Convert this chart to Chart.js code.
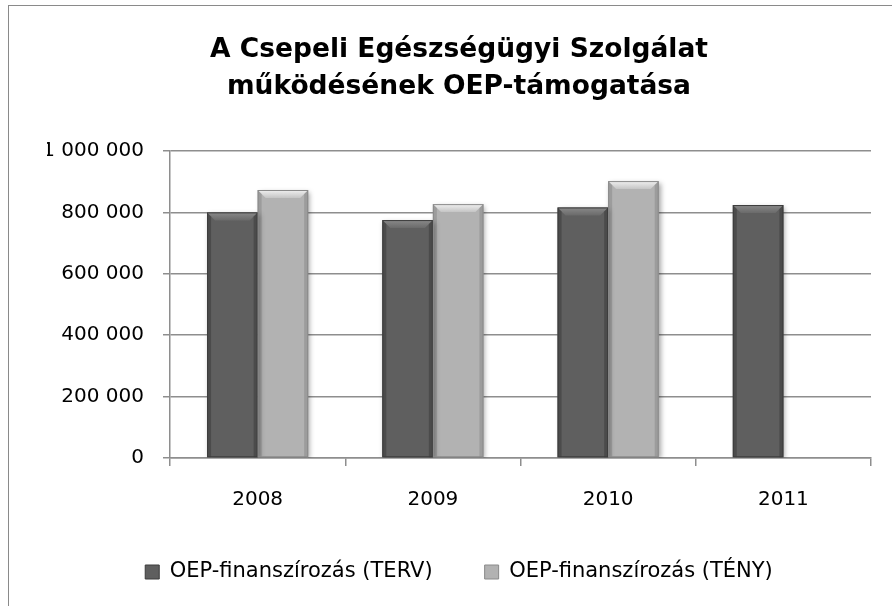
<!DOCTYPE html>
<html>
<head>
<meta charset="utf-8">
<script src="https://cdn.jsdelivr.net/npm/chart.js@4/dist/chart.umd.min.js"></script>
<style>
  body { margin: 0; background: #fff; }
  #wrap { width: 892px; height: 606px; }
</style>
</head>
<body>
<div id="wrap"><canvas id="oepChart" width="892" height="606"></canvas></div>
<script>
const years = ["2008", "2009", "2010", "2011"];
const tervValues = [800000, 775000, 816000, 824000];
const tenyValues = [873000, 827000, 902000, null];
const titleLines = ["A Csepeli Egészségügyi Szolgálat", "működésének OEP-támogatása"];
const seriesNames = ["OEP-finanszírozás (TERV)", "OEP-finanszírozás (TÉNY)"];

const tickFont = { family: "DejaVu Sans", size: 20 };
const legendFont = { family: "DejaVu Sans", size: 21 };
const gridGray = "#8e8e8e";

function fmt(v) {
    return String(v).replace(/\B(?=(\d{3})+(?!\d))/g, " ");
}

// light border round the chart, like the excel frame
const frame = {
    id: "frame",
    beforeDraw(chart) {
        let ctx = chart.ctx;
        ctx.save();
        ctx.fillStyle = "#fff";
        ctx.fillRect(0, 0, chart.width, chart.height);
        ctx.strokeStyle = "#8a8a8a";
        ctx.lineWidth = 1;
        ctx.strokeRect(8.5, 5.5, chart.width + 20, chart.height + 20);
        ctx.restore();
    }
};

// soft shadow under the bars, then a bevel on top of them
const bevel = {
    id: "bevel",
    beforeDatasetsDraw(chart) {
        let ctx = chart.ctx;
        ctx.save();
        ctx.shadowColor = "rgba(0,0,0,0.35)";
        ctx.shadowBlur = 5;
        ctx.shadowOffsetX = 2;
        ctx.shadowOffsetY = 2;
    },
    afterDatasetsDraw(chart) {
        let ctx = chart.ctx;
        ctx.restore();
        chart.data.datasets.forEach((ds, i) => {
            let meta = chart.getDatasetMeta(i);
            meta.data.forEach((bar, j) => {
                if (ds.data[j] == null) return;
                let w = bar.width;
                let l = bar.x - w / 2, r = bar.x + w / 2;
                let t = bar.y, b = bar.base;
                let k = 8;
                ctx.save();
                let g = ctx.createLinearGradient(0, t, 0, t + k);
                g.addColorStop(0, ds.bevelTop[0]);
                g.addColorStop(1, ds.bevelTop[1]);
                ctx.fillStyle = g;
                ctx.beginPath();
                ctx.moveTo(l, t); ctx.lineTo(r, t);
                ctx.lineTo(r - k, t + k); ctx.lineTo(l + k, t + k);
                ctx.closePath(); ctx.fill();

                ctx.fillStyle = ds.bevelSide;
                ctx.beginPath();
                ctx.moveTo(l, t); ctx.lineTo(l + 4, t + 4);
                ctx.lineTo(l + 4, b); ctx.lineTo(l, b);
                ctx.closePath(); ctx.fill();
                ctx.beginPath();
                ctx.moveTo(r, t); ctx.lineTo(r - 4, t + 4);
                ctx.lineTo(r - 4, b); ctx.lineTo(r, b);
                ctx.closePath(); ctx.fill();

                ctx.strokeStyle = ds.edge;
                ctx.lineWidth = 1;
                ctx.strokeRect(l + 0.5, t + 0.5, w - 1, b - t - 1);
                ctx.restore();
            });
        });
    }
};

new Chart(document.getElementById("oepChart"), {
    type: "bar",
    data: {
        labels: years,
        datasets: [{
            label: seriesNames[0],
            data: tervValues,
            backgroundColor: "#5f5f5f",
            bevelTop: ["#8a8a8a", "#6a6a6a"],
            bevelSide: "rgba(40,40,40,0.35)",
            edge: "#3c3c3c",
            borderWidth: 0
        }, {
            label: seriesNames[1],
            data: tenyValues,
            backgroundColor: "#b2b2b2",
            bevelTop: ["#f0f0f0", "#c4c4c4"],
            bevelSide: "rgba(90,90,90,0.25)",
            edge: "#8a8a8a",
            borderWidth: 0
        }]
    },
    options: {
        responsive: false,
        animation: false,
        categoryPercentage: 0.577,
        barPercentage: 1,
        layout: { padding: { left: 47, right: 21, top: 0, bottom: 13.5 } },
        plugins: {
            title: {
                display: true,
                text: titleLines,
                color: "#000",
                font: { family: "DejaVu Sans", size: 26.5, weight: "bold", lineHeight: 37 / 26.5 },
                padding: { top: 32, bottom: 45 }
            },
            legend: {
                position: "bottom",
                labels: {
                    color: "#000",
                    font: legendFont,
                    boxWidth: 14,
                    boxHeight: 14,
                    padding: 52,
                    generateLabels(chart) {
                        return chart.data.datasets.map((ds, i) => ({
                            text: ds.label,
                            fillStyle: ds.backgroundColor,
                            strokeStyle: ds.edge,
                            lineWidth: 1,
                            datasetIndex: i
                        }));
                    }
                }
            },
            tooltip: { enabled: false }
        },
        scales: {
            x: {
                afterFit(scale) { scale.height = 51.5; },
                grid: {
                    display: true,
                    drawOnChartArea: false,
                    drawTicks: true,
                    tickLength: 8,
                    color: gridGray,
                    lineWidth: 1.5
                },
                border: { display: true, color: gridGray, width: 1.5 },
                ticks: { color: "#000", font: tickFont, padding: 22 }
            },
            y: {
                min: 0,
                max: 1000000,
                afterFit(scale) { scale.width = 123; },
                grid: {
                    color: gridGray,
                    lineWidth: 1.5,
                    tickLength: 7
                },
                border: { display: true, color: gridGray, width: 1.5 },
                ticks: {
                    stepSize: 200000,
                    color: "#000",
                    font: tickFont,
                    padding: 19,
                    callback: v => fmt(v)
                }
            }
        }
    },
    plugins: [frame, bevel]
});
</script>
</body>
</html>
